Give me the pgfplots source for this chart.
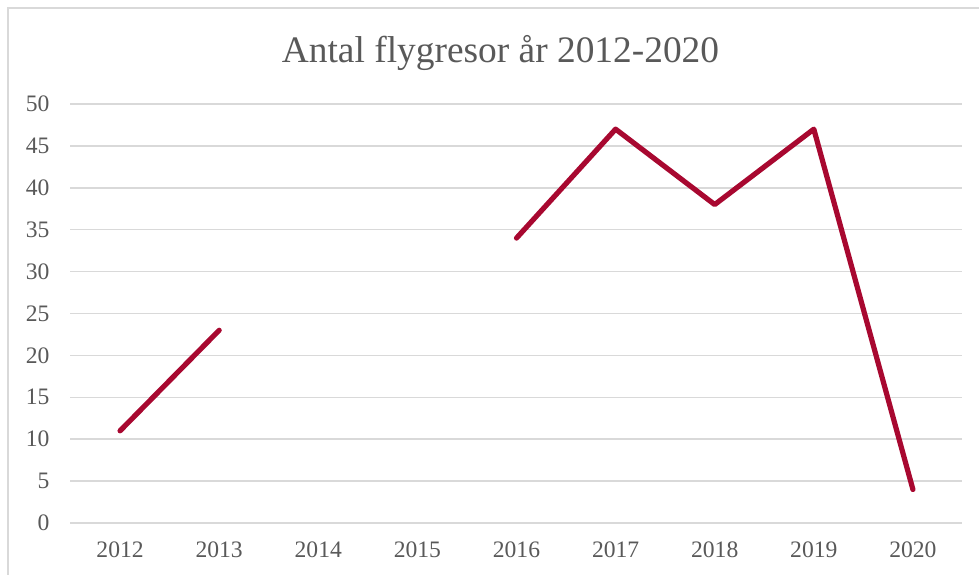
\documentclass[border=0pt]{standalone}
\usepackage{fontspec}
\setmainfont{Liberation Serif}
\usepackage{pgfplots}
\pgfplotsset{compat=1.18}
\definecolor{txt}{HTML}{595959}
\definecolor{gridgray}{HTML}{D9D9D9}
\definecolor{wine}{RGB}{168,8,48}

\begin{document}
\begin{tikzpicture}
  % 1px of the reference = 0.5pt
  \useasboundingbox (0,0) rectangle (489.5pt,287pt);
  \draw[gridgray, line width=0.6pt] (4pt,-10pt) rectangle (500pt,283pt);
  \begin{axis}[
    at={(35.25pt,25.5pt)}, anchor=south west,
    scale only axis,
    width=446pt, height=209.5pt,
    xmin=-0.5, xmax=8.5,
    ymin=0, ymax=50,
    xtick={0,...,8},
    xticklabels={2012,2013,2014,2015,2016,2017,2018,2019,2020},
    ytick={0,5,...,50},
    xmajorgrids=false,
    ymajorgrids=true,
    grid style={draw=gridgray, line width=0.75pt},
    axis line style={draw=none},
    major tick length=0pt,
    tick label style={font=\fontsize{11.8}{13}\selectfont, text=txt},
    /pgf/number format/assume math mode=true,
    yticklabel style={xshift=-7pt},
    xticklabel style={yshift=-6pt},
    title={Antal flygresor år 2012-2020},
    title style={font=\fontsize{18.7}{22}\selectfont, text=txt, yshift=7pt, xshift=-8pt},
    unbounded coords=jump,
    clip=false,
  ]
  \addplot[wine, line width=2.6pt, line cap=round, line join=round]
    coordinates {(0,11) (1,23) (2,nan) (3,nan) (4,34) (5,47) (6,38) (7,47) (8,4)};
  \end{axis}
\end{tikzpicture}
\end{document}
